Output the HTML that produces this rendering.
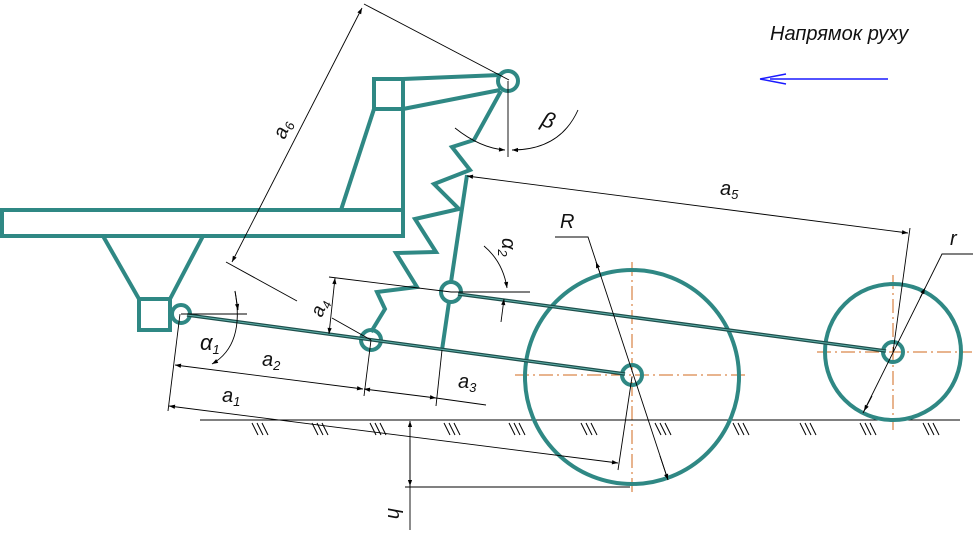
<!DOCTYPE html>
<html><head><meta charset="utf-8"><style>
html,body{margin:0;padding:0;background:#fff;}
svg{display:block;}
text{font-family:"Liberation Sans","DejaVu Sans",sans-serif;font-style:italic;fill:#111;}
</style></head><body>
<svg width="975" height="533" viewBox="0 0 975 533" xmlns="http://www.w3.org/2000/svg">
<defs>
<marker id="ar" viewBox="0 0 10 10" refX="10" refY="5" markerWidth="9" markerHeight="6" orient="auto-start-reverse" markerUnits="userSpaceOnUse"><path d="M0,1.5 L10,5 L0,8.5z" fill="#000"/></marker>
</defs>
<!-- orange centerlines -->
<g stroke="#d2691e" stroke-width="1" stroke-dasharray="14,4,2,4" fill="none">
<line x1="515" y1="375" x2="748" y2="375"/><line x1="632" y1="262" x2="632" y2="495"/>
<line x1="817" y1="352" x2="972" y2="352"/><line x1="893" y1="275" x2="893" y2="430"/>
</g>
<!-- ground -->
<g stroke="#000" stroke-width="1" fill="none">
<line x1="200" y1="420" x2="960" y2="420"/>
<path d="M252,423l6,12M257,423l6,12M262,423l6,12 M312,423l6,12M317,423l6,12M322,423l6,12 M370,423l6,12M375,423l6,12M380,423l6,12 M444,423l6,12M449,423l6,12M454,423l6,12 M509,423l6,12M514,423l6,12M519,423l6,12 M581,423l6,12M586,423l6,12M591,423l6,12 M655,423l6,12M660,423l6,12M665,423l6,12 M733,423l6,12M738,423l6,12M743,423l6,12 M800,423l6,12M805,423l6,12M810,423l6,12 M860,423l6,12M865,423l6,12M870,423l6,12 M923,423l6,12M928,423l6,12M933,423l6,12"/>
</g>
<!-- teal structure -->
<g stroke="#2f8884" stroke-width="4" fill="none" stroke-linejoin="miter">
<rect x="2" y="210" width="401" height="26"/>
<rect x="374" y="79" width="29" height="30"/>
<line x1="403" y1="109" x2="403" y2="210"/>
<line x1="341" y1="210" x2="374" y2="109"/>
<line x1="403" y1="79" x2="500" y2="75"/>
<line x1="403" y1="109" x2="500" y2="90"/>
<circle cx="508" cy="81" r="10"/>
<polyline points="501,91 474,140 452,147 470,170 434,184 459,209 415,219 436,252 396,253 417,287 377,292 385,309 371,332"/>
<line x1="467" y1="175" x2="451" y2="282"/>
<line x1="449" y1="302" x2="442" y2="350"/>
<circle cx="451" cy="292" r="10"/>
<circle cx="371" cy="340" r="10"/>
<circle cx="181" cy="314" r="9"/>
<rect x="139" y="299" width="31" height="31"/>
<polyline points="103,236 139,299"/><polyline points="203,236 170,299"/>
<circle cx="632" cy="377" r="107"/>
<circle cx="632" cy="375" r="10"/>
<circle cx="893" cy="352" r="68"/>
<circle cx="893" cy="352" r="10"/>
<line x1="760" y1="79" x2="760" y2="79"/>
</g>
<!-- rods -->
<g stroke="#1d4f4c" stroke-width="3.5" fill="none">
<line x1="187" y1="315" x2="625" y2="374"/>
<line x1="458" y1="294" x2="886" y2="351"/>
</g>
<g stroke="#5fb0aa" stroke-width="1" fill="none">
<line x1="187" y1="315" x2="625" y2="374"/>
<line x1="458" y1="294" x2="886" y2="351"/>
</g>
<!-- dimensions -->
<g stroke="#000" stroke-width="0.9" fill="none">
<line x1="364" y1="4" x2="509" y2="80"/>
<line x1="362" y1="8" x2="232" y2="262" marker-start="url(#ar)" marker-end="url(#ar)"/>
<line x1="226" y1="262" x2="297" y2="301"/>
<line x1="508" y1="81" x2="508" y2="157"/>
<path d="M578,110 Q560,150 512,150" marker-end="url(#ar)"/>
<path d="M505,150 Q480,148 455,128" marker-start="url(#ar)"/>
<line x1="467" y1="176" x2="908" y2="233" marker-start="url(#ar)" marker-end="url(#ar)"/>
<line x1="910" y1="228" x2="893" y2="352"/>
<line x1="329" y1="277" x2="451" y2="292"/>
<line x1="332" y1="318" x2="371" y2="340"/>
<line x1="335" y1="278" x2="329" y2="334" marker-start="url(#ar)" marker-end="url(#ar)"/>
<line x1="181" y1="314" x2="247" y2="314"/>
<path d="M235,291 Q245,345 212,364" marker-end="url(#ar)"/>
<path d="M235,291 L238,310" marker-end="url(#ar)"/>
<line x1="451" y1="292" x2="530" y2="292"/>
<path d="M484,246 Q503,262 507,288" marker-end="url(#ar)"/>
<line x1="501" y1="322" x2="504" y2="299" marker-end="url(#ar)"/>
<line x1="180" y1="314" x2="168" y2="411"/>
<line x1="371" y1="340" x2="364" y2="396"/>
<line x1="442" y1="350" x2="436" y2="406"/>
<line x1="175" y1="365" x2="363" y2="389" marker-start="url(#ar)" marker-end="url(#ar)"/>
<line x1="364" y1="389" x2="436" y2="398" marker-start="url(#ar)" marker-end="url(#ar)"/>
<line x1="436" y1="398" x2="486" y2="405"/>
<line x1="169" y1="406" x2="618" y2="463" marker-start="url(#ar)" marker-end="url(#ar)"/>
<line x1="632" y1="377" x2="618" y2="470"/>
<line x1="410" y1="530" x2="410" y2="421" marker-end="url(#ar)"/>
<line x1="410" y1="440" x2="410" y2="486" marker-end="url(#ar)"/>
<line x1="405" y1="487" x2="630" y2="487"/>
<polyline points="555,237 588,237 668,480"/>
<line x1="600" y1="273" x2="596" y2="262" marker-end="url(#ar)"/>
<line x1="660" y1="456" x2="668" y2="480" marker-end="url(#ar)"/>
<polyline points="973,254 942,254 863,413"/>
<line x1="920" y1="298" x2="925" y2="288" marker-end="url(#ar)"/>
<line x1="872" y1="396" x2="864" y2="411" marker-end="url(#ar)"/>
</g>
<!-- direction arrow -->
<line x1="770" y1="79" x2="888" y2="79" stroke="#1a1aff" stroke-width="1.5"/>
<path d="M760,79 L786,74 M760,79 L786,84" stroke="#1a1aff" stroke-width="1.5"/>
<text x="770" y="40" font-size="20">Напрямок руху</text>
<!-- labels -->
<text x="0" y="0" font-size="20" transform="translate(285,140) rotate(-70)">a<tspan font-size="13" dy="4">6</tspan></text>
<text x="0" y="0" font-size="19" transform="translate(322,318) rotate(-70)">a<tspan font-size="12" dy="4">4</tspan></text>
<text x="200" y="350" font-size="22">α<tspan font-size="13" dy="4">1</tspan></text>
<text x="262" y="366" font-size="20">a<tspan font-size="13" dy="4">2</tspan></text>
<text x="222" y="402" font-size="20">a<tspan font-size="13" dy="4">1</tspan></text>
<text x="458" y="388" font-size="20">a<tspan font-size="13" dy="4">3</tspan></text>
<text x="720" y="195" font-size="20">a<tspan font-size="13" dy="4">5</tspan></text>
<text x="0" y="0" font-size="20" transform="translate(502,238) rotate(90)">α<tspan font-size="13" dy="4">2</tspan></text>
<text x="560" y="228" font-size="20">R</text>
<text x="950" y="245" font-size="20">r</text>
<text x="0" y="0" font-size="22" transform="translate(540,125) rotate(20)">β</text>
<text x="0" y="0" font-size="20" transform="translate(388,508) rotate(90)">h</text>
</svg>
</body></html>
